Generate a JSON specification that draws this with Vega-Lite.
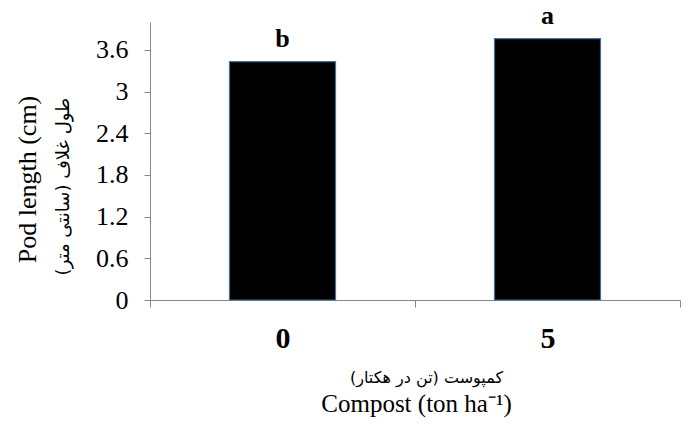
{
  "$schema": "https://vega.github.io/schema/vega-lite/v6.json",
  "width": 530,
  "height": 278,
  "autosize": {"type": "none"},
  "padding": {"left": 150, "top": 22, "right": 10, "bottom": 125},
  "background": "white",
  "config": {"view": {"stroke": null}, "font": "Liberation Serif"},
  "data": {"values": [
    {"compost": "0", "length": 3.43, "letter": "b"},
    {"compost": "5", "length": 3.76, "letter": "a"}
  ]},
  "resolve": {"scale": {"x": "independent", "y": "independent"}, "axis": {"x": "independent", "y": "independent"}},
  "layer": [
    {
      "mark": {"type": "bar", "color": "black", "stroke": "#41719c", "strokeWidth": 1.2},
      "encoding": {
        "x": {
          "field": "compost", "type": "nominal", "sort": null,
          "scale": {"paddingInner": 0.6, "paddingOuter": 0.3},
          "axis": {
            "orient": "bottom", "labels": false, "ticks": false, "domain": false,
            "title": "کمپوست (تن در هکتار)",
            "titleFont": "DejaVu Sans", "titleFontSize": 16, "titleFontWeight": "normal",
            "titleColor": "black", "titleBaseline": "middle", "titleX": 276, "titleY": 77
          }
        },
        "y": {
          "field": "length", "type": "quantitative",
          "scale": {"domain": [0, 4], "nice": false},
          "axis": {
            "orient": "left",
            "values": [0, 0.6, 1.2, 1.8, 2.4, 3, 3.6], "format": "~g", "grid": false,
            "labelFont": "Liberation Serif", "labelFontSize": 26, "labelColor": "black", "labelPadding": 16,
            "domainColor": "#868686", "tickColor": "#868686", "tickSize": 6,
            "title": "Pod length (cm)",
            "titleFont": "Liberation Serif", "titleFontSize": 26, "titleFontWeight": "normal",
            "titleColor": "black", "titleBaseline": "middle", "titleAngle": -90, "titleX": -123, "titleY": 157
          }
        }
      }
    },
    {
      "mark": {"type": "text", "font": "Liberation Serif", "fontSize": 26, "fontWeight": "bold", "dy": -15, "baseline": "alphabetic", "color": "black"},
      "encoding": {
        "x": {
          "field": "compost", "type": "nominal", "sort": null,
          "scale": {"paddingInner": 0, "paddingOuter": 0},
          "axis": {
            "orient": "bottom",
            "labelAngle": 0, "labelFont": "Liberation Serif", "labelFontSize": 30, "labelFontWeight": "bold",
            "labelColor": "black", "labelPadding": 16, "tickBand": "extent",
            "domainColor": "#868686", "tickColor": "#868686", "tickSize": 7,
            "title": "Compost (ton ha⁻¹)",
            "titleFont": "Liberation Serif", "titleFontSize": 25, "titleFontWeight": "normal",
            "titleColor": "black", "titleBaseline": "middle", "titleX": 266, "titleY": 103
          }
        },
        "y": {
          "field": "length", "type": "quantitative",
          "scale": {"domain": [0, 4], "nice": false},
          "axis": {
            "orient": "left", "labels": false, "ticks": false, "domain": false, "grid": false,
            "title": "طول غلاف (سانتی متر)",
            "titleFont": "DejaVu Sans", "titleFontSize": 18, "titleFontWeight": "normal",
            "titleColor": "black", "titleBaseline": "middle", "titleAngle": -90, "titleX": -87, "titleY": 164
          }
        },
        "text": {"field": "letter"}
      }
    }
  ]
}
